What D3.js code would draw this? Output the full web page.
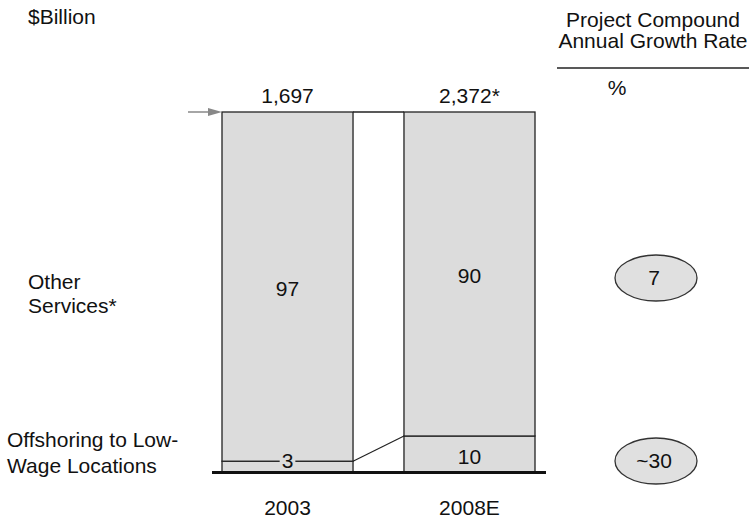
<!DOCTYPE html>
<html lang="en">
<head>
  <meta charset="UTF-8" />
  <title>Offshoring share of services</title>
  <script src="https://d3js.org/d3.v7.min.js"></script>
  <style>
    body { margin: 0; background: #fff; }
    svg { display: block; }
    text { font-family: "Liberation Sans", Arial, Helvetica, sans-serif; font-size: 21px; fill: #111; }
  </style>
</head>
<body>
  <svg id="chart"></svg>
  <script>
    // data
    const years = ["2003", "2008E"];
    const totals = ["1,697", "2,372*"];
    const offshoreShare = [3, 10];
    const otherShare = [97, 90];
    const segmentLabels = [["Offshoring to Low-", "Wage Locations"], ["Other", "Services*"]];
    const cagrLabels = ["~30", "7"];

    const W = 749, H = 519;
    const svg = d3.select("#chart").attr("width", W).attr("height", H);

    const rows = years.map((y, i) => ({ year: y, offshore: offshoreShare[i], other: otherShare[i] }));
    const stack = d3.stack().keys(["offshore", "other"])(rows);

    const x = d3.scaleBand().domain(years).range([222, 535]).paddingInner(0.28);
    const y = d3.scaleLinear().domain([0, 100]).range([472, 112]);
    const bw = x.bandwidth();

    // bars
    stack.forEach(layer => {
      svg.append("g").selectAll("rect")
        .data(layer)
        .join("rect")
          .attr("x", d => x(d.data.year))
          .attr("y", d => y(d[1]))
          .attr("width", bw)
          .attr("height", d => y(d[0]) - y(d[1]))
          .attr("fill", "#dcdcdc")
          .attr("stroke", "#222")
          .attr("stroke-width", 1.3);
    });

    // connector lines between bars
    const x1 = x(years[0]) + bw, x2 = x(years[1]);
    svg.append("line")
      .attr("x1", x1).attr("x2", x2)
      .attr("y1", y(100)).attr("y2", y(100))
      .attr("stroke", "#222").attr("stroke-width", 1.3);
    svg.append("line")
      .attr("x1", x1).attr("x2", x2)
      .attr("y1", y(offshoreShare[0])).attr("y2", y(offshoreShare[1]))
      .attr("stroke", "#222").attr("stroke-width", 1.2);

    // baseline
    svg.append("line")
      .attr("x1", x(years[0]) - 10).attr("x2", x(years[1]) + bw + 11)
      .attr("y1", y(0) + 0.5).attr("y2", y(0) + 0.5)
      .attr("stroke", "#111").attr("stroke-width", 3);

    // grey arrow to top of first bar
    const ax = x(years[0]);
    svg.append("line")
      .attr("x1", ax - 34).attr("x2", ax - 12)
      .attr("y1", y(100)).attr("y2", y(100))
      .attr("stroke", "#888").attr("stroke-width", 1.5);
    svg.append("path")
      .attr("d", `M${ax - 14},${y(100) - 4}L${ax},${y(100)}L${ax - 14},${y(100) + 4}Z`)
      .attr("fill", "#888");

    // segment value labels
    rows.forEach((r, i) => {
      const cx = x(r.year) + bw / 2;
      svg.append("text")
        .attr("x", cx).attr("y", y(r.offshore + r.other / 2) + 9)
        .attr("text-anchor", "middle").text(r.other);

      const small = y(0) - y(r.offshore) < 20;
      const ly = small ? y(r.offshore) + 7 : y(r.offshore / 2) + 10;
      const t = svg.append("text")
        .attr("x", cx).attr("y", ly)
        .attr("text-anchor", "middle").text(r.offshore);
      if (small) {
        const bb = t.node().getBBox();
        svg.insert("rect", () => t.node())
          .attr("x", bb.x - 2).attr("y", y(r.offshore) - 2)
          .attr("width", bb.width + 4).attr("height", 4)
          .attr("fill", "#dcdcdc");
      }

      svg.append("text")
        .attr("x", cx).attr("y", 103)
        .attr("text-anchor", "middle").text(totals[i]);

      svg.append("text")
        .attr("x", cx).attr("y", 515)
        .attr("text-anchor", "middle").text(r.year);
    });

    // left labels
    svg.append("text").attr("x", 28).attr("y", 24).text("$Billion");
    [[28, 289], [28, 313]].forEach((p, k) => {
      svg.append("text").attr("x", p[0]).attr("y", p[1]).text(segmentLabels[1][k]);
    });
    [[7, 447], [7, 473]].forEach((p, k) => {
      svg.append("text").attr("x", p[0]).attr("y", p[1]).text(segmentLabels[0][k]);
    });

    // right header
    svg.append("text").attr("x", 653).attr("y", 27).attr("text-anchor", "middle").text("Project Compound");
    svg.append("text").attr("x", 653).attr("y", 48).attr("text-anchor", "middle").text("Annual Growth Rate");
    svg.append("line")
      .attr("x1", 557).attr("x2", W).attr("y1", 68).attr("y2", 68)
      .attr("stroke", "#222").attr("stroke-width", 1.5);
    svg.append("text").attr("x", 617).attr("y", 95).attr("text-anchor", "middle").text("%");

    // growth rate ellipses
    const ellY = [461, 278];
    cagrLabels.forEach((lab, i) => {
      svg.append("ellipse")
        .attr("cx", 656).attr("cy", ellY[i])
        .attr("rx", 41).attr("ry", 23)
        .attr("fill", "#e0e0e0")
        .attr("stroke", "#333").attr("stroke-width", 1.3);
      svg.append("text")
        .attr("x", 654).attr("y", ellY[i] + 7)
        .attr("text-anchor", "middle").text(lab);
    });
  </script>
</body>
</html>
